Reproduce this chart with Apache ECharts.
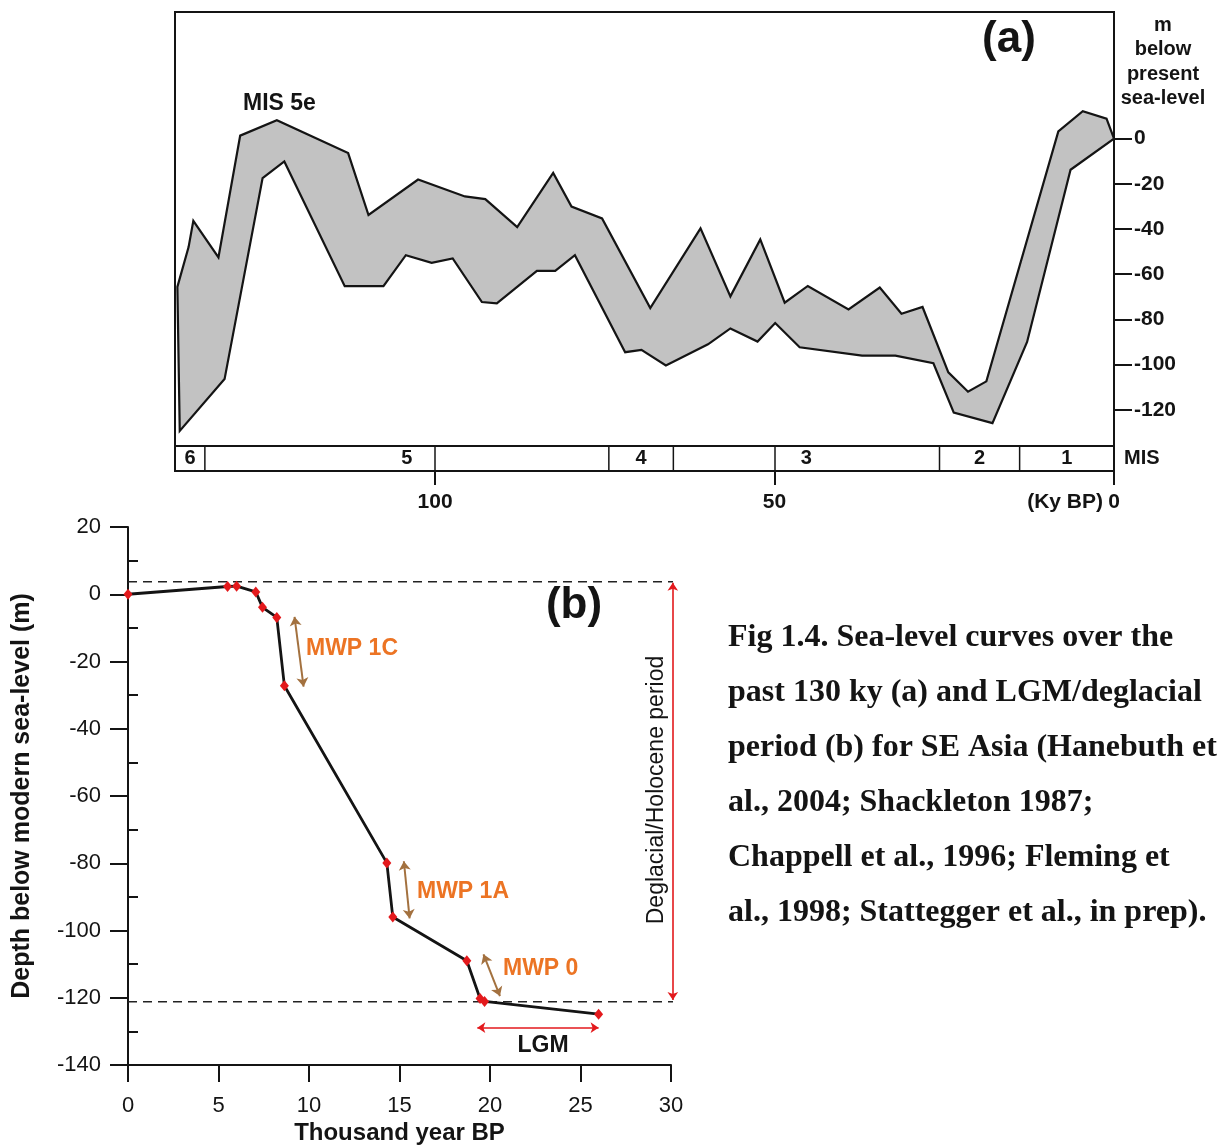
<!DOCTYPE html>
<html>
<head>
<meta charset="utf-8">
<script src="https://cdn.jsdelivr.net/npm/echarts@6/dist/echarts.min.js"></script>
<style>
  html, body { margin: 0; padding: 0; background: #fff; }
  #chart { width: 1229px; height: 1146px; }
</style>
</head>
<body>
<div id="chart"></div>
<script>
// Panel (a): sea-level envelope over the last glacial cycle (age in ky BP, level in m vs present)
const upperAge   = [137.95, 136.3, 135.6, 131.9, 128.7, 123.3, 112.8, 109.8, 102.5, 95.6, 92.6, 87.9, 82.6, 79.9, 75.4, 68.3, 60.9, 56.5, 52.1, 48.5, 45.1, 39.1, 34.5, 31.3, 28.2, 24.4, 21.5, 18.8, 8.2, 4.6, 1.1, 0];
const upperLevel = [-65.6, -48, -36.4, -52.6, 1.3, 8.1, -6.4, -33.8, -18.1, -25.6, -26.8, -39.2, -15.2, -30.1, -35.3, -75, -39.7, -69.8, -44.6, -72.6, -65.2, -75.6, -65.9, -77.5, -74.5, -103.4, -112, -107.4, 3.2, 12.1, 8.8, 0];
const lowerAge   = [137.6, 131, 125.4, 122.2, 113.3, 107.6, 104.3, 100.5, 97.4, 93.1, 90.9, 85, 82.3, 79.4, 72, 69.6, 66, 59.8, 56.5, 52.5, 49.9, 46.3, 37.1, 32.2, 26.6, 23.6, 17.9, 12.8, 6.4, 0];
const lowerLevel = [-129.3, -106.4, -17.5, -10.1, -65.3, -65.3, -51.6, -55, -53, -72.3, -72.9, -58.5, -58.5, -51.6, -94.5, -93.5, -100.4, -91, -84, -89.8, -81.6, -92.3, -96, -96, -99.4, -121.2, -125.9, -90, -13.8, 0];

// Marine isotope stages (older bound, younger bound in ky BP)
const misStage = ['6', '5', '4', '3', '2', '1'];
const misOlder = [138.3, 133.9, 74.4, 64.9, 25.7, 13.9];
const misYounger = [133.9, 74.4, 64.9, 25.7, 13.9, 0];

const ageTicksA = [100, 50, 0];
const levelTicksA = [0, -20, -40, -60, -80, -100, -120];

// Panel (b): LGM / deglacial sea-level curve
const bAge   = [0, 5.5, 6.0, 7.06, 7.43, 8.22, 8.64, 14.3, 14.63, 18.72, 19.45, 19.7, 26.0];
const bDepth = [0, 2.3, 2.4, 0.7, -3.9, -6.9, -27.2, -79.9, -96, -109, -120.2, -121.1, -124.9];

const deglacialTop = 3.7;
const lgmLevel = -121.2;
const mwpNames = ['MWP 1C', 'MWP 1A', 'MWP 0'];
const mwpArrows = [
  [[9.2, -6.7], [9.7, -27.5]],
  [[15.24, -79.4], [15.56, -96.4]],
  [[19.64, -107.1], [20.55, -119.5]]
];
const lgmArrow = [[19.3, -128.9], [26.0, -128.9]];
const deglacialArrow = [[30.1, 3.4], [30.1, -120.7]];
const minorTicksB = [10, -10, -30, -50, -70, -90, -110, -130];

const captionLines = [
  'Fig 1.4. Sea-level curves over the',
  'past 130 ky (a) and LGM/deglacial',
  'period (b) for SE Asia (Hanebuth et',
  'al., 2004; Shackleton 1987;',
  'Chappell et al., 1996; Fleming et',
  'al., 1998; Stattegger et al., in prep).'
];

const sans = "'Liberation Sans', Arial, Helvetica, sans-serif";
const serif = "'Liberation Serif', 'Times New Roman', Times, serif";
const ink = '#141414';
const orange = '#ec7424';
const brown = '#a3713f';
const red = '#e3191c';

const chart = echarts.init(document.getElementById('chart'), null, { renderer: 'canvas', width: 1229, height: 1146 });

function txt(x, y, text, style, extra) {
  return Object.assign({
    type: 'text', x: x, y: y, silent: true,
    style: Object.assign({ text: text, fill: ink, font: 'bold 20px ' + sans }, style)
  }, extra || {});
}

const graphics = [
  txt(243, 104, 'MIS 5e', { font: 'bold 23px ' + sans, verticalAlign: 'middle' }),
  txt(1009, 40, '(a)', { font: 'bold 44px ' + sans, align: 'center', verticalAlign: 'middle' }),
  txt(1163, 13, 'm\nbelow\npresent\nsea-level', { font: 'bold 20px ' + sans, align: 'center', lineHeight: 24.5 }),
  txt(1124, 458, 'MIS', { font: 'bold 20px ' + sans, verticalAlign: 'middle' }),
  txt(1103, 502, '(Ky BP)', { font: 'bold 21px ' + sans, align: 'right', verticalAlign: 'middle' }),
  txt(574, 606, '(b)', { font: 'bold 44px ' + sans, align: 'center', verticalAlign: 'middle' }),
  txt(306, 649, mwpNames[0], { font: 'bold 23px ' + sans, fill: orange, verticalAlign: 'middle' }),
  txt(417, 892, mwpNames[1], { font: 'bold 23px ' + sans, fill: orange, verticalAlign: 'middle' }),
  txt(503, 969, mwpNames[2], { font: 'bold 23px ' + sans, fill: orange, verticalAlign: 'middle' }),
  txt(543, 1046, 'LGM', { font: 'bold 23px ' + sans, align: 'center', verticalAlign: 'middle' }),
  txt(657, 790, 'Deglacial/Holocene period', { font: '23px ' + sans, align: 'center', verticalAlign: 'middle' }, { rotation: Math.PI / 2 })
];
captionLines.forEach(function (line, i) {
  graphics.push(txt(728, 638 + i * 55, line, { font: 'bold 32px ' + serif, verticalAlign: 'middle' }));
});

const option = {
  animation: false,
  backgroundColor: '#ffffff',
  grid: [
    { left: 175, top: 12, width: 939, height: 434, show: true, borderColor: ink, borderWidth: 2, backgroundColor: 'transparent' },
    { left: 175, top: 446, width: 939, height: 25, show: true, borderColor: ink, borderWidth: 2, backgroundColor: 'transparent' },
    { left: 128, top: 527, width: 543, height: 539 }
  ],
  xAxis: [
    { gridIndex: 0, type: 'value', min: 0, max: 138.3, inverse: true,
      axisLine: { show: false }, axisTick: { show: false }, axisLabel: { show: false }, splitLine: { show: false } },
    { gridIndex: 1, type: 'value', min: 0, max: 138.3, inverse: true, interval: 50,
      axisLine: { show: false },
      axisTick: { show: true, length: 14, customValues: ageTicksA, lineStyle: { color: ink, width: 2 } },
      axisLabel: { customValues: ageTicksA, fontFamily: sans, fontWeight: 'bold', fontSize: 21, color: ink, margin: 21 },
      splitLine: { show: true, lineStyle: { color: ink, width: 1.5 } } },
    { gridIndex: 2, type: 'value', min: 0, max: 30, interval: 5,
      axisLine: { show: true, onZero: false, lineStyle: { color: ink, width: 2 } },
      axisTick: { show: true, length: 17, lineStyle: { color: ink, width: 2 } },
      axisLabel: { fontFamily: sans, fontSize: 22, color: ink, margin: 30 },
      splitLine: { show: false },
      name: 'Thousand year BP', nameLocation: 'middle', nameGap: 56,
      nameTextStyle: { fontFamily: sans, fontWeight: 'bold', fontSize: 24, color: ink } }
  ],
  yAxis: [
    { gridIndex: 0, type: 'value', min: -136, max: 56, position: 'right',
      axisLine: { show: false },
      axisTick: { show: true, length: 18, customValues: levelTicksA, lineStyle: { color: ink, width: 2 } },
      axisLabel: { customValues: levelTicksA, fontFamily: sans, fontWeight: 'bold', fontSize: 21, color: ink, margin: 20 },
      splitLine: { show: false } },
    { gridIndex: 1, type: 'value', min: 0, max: 1, show: false },
    { gridIndex: 2, type: 'value', min: -140, max: 20, interval: 20, position: 'left',
      axisLine: { show: true, onZero: false, lineStyle: { color: ink, width: 2 } },
      axisTick: { show: true, length: 18, lineStyle: { color: ink, width: 2 } },
      axisLabel: { fontFamily: sans, fontSize: 22, color: ink, margin: 27 },
      splitLine: { show: false },
      name: 'Depth below modern sea-level (m)', nameLocation: 'middle', nameGap: 93,
      nameTextStyle: { fontFamily: sans, fontWeight: 'bold', fontSize: 25, color: ink } },
    { gridIndex: 2, type: 'value', min: -140, max: 20, position: 'left', offset: 0,
      axisLine: { show: false },
      axisTick: { show: true, inside: true, length: 10, customValues: minorTicksB, lineStyle: { color: ink, width: 2 } },
      axisLabel: { show: false }, splitLine: { show: false } }
  ],
  graphic: graphics,
  series: [
    // (a) envelope polygon: upper bound then lower bound in reverse
    { type: 'custom', xAxisIndex: 0, yAxisIndex: 0, data: [[0, 0]], clip: true, z: 3,
      renderItem: function (params, api) {
        const pts = [];
        for (let i = 0; i < upperAge.length; i++) pts.push(api.coord([upperAge[i], upperLevel[i]]));
        for (let i = lowerAge.length - 1; i >= 0; i--) pts.push(api.coord([lowerAge[i], lowerLevel[i]]));
        return { type: 'polygon', shape: { points: pts },
          style: { fill: '#c2c2c2', stroke: ink, lineWidth: 2.2, lineJoin: 'miter' } };
      } },
    // (a) MIS stage bar
    { type: 'custom', xAxisIndex: 1, yAxisIndex: 1, z: 4,
      data: misStage.map(function (s, i) { return [misOlder[i], misYounger[i], i]; }),
      renderItem: function (params, api) {
        const i = api.value(2);
        const older = api.value(0), younger = api.value(1);
        const top = api.coord([older, 1]);
        const bot = api.coord([older, 0]);
        const mid = api.coord([(older + younger) / 2, 0.5]);
        const children = [{ type: 'text', x: mid[0], y: mid[1],
          style: { text: misStage[i], fill: ink, font: 'bold 20px ' + sans, align: 'center', verticalAlign: 'middle' } }];
        if (i > 0) children.push({ type: 'line', shape: { x1: top[0], y1: top[1], x2: bot[0], y2: bot[1] },
          style: { stroke: ink, lineWidth: 1.5 } });
        return { type: 'group', children: children };
      } },
    // (b) reference levels
    { type: 'line', xAxisIndex: 2, yAxisIndex: 2, clip: false, symbol: 'none', silent: true, z: 2,
      data: [[0, deglacialTop], [30.5, deglacialTop]],
      lineStyle: { color: '#222', width: 1.6, type: [9, 6] } },
    { type: 'line', xAxisIndex: 2, yAxisIndex: 2, clip: false, symbol: 'none', silent: true, z: 2,
      data: [[0, lgmLevel], [30.5, lgmLevel]],
      lineStyle: { color: '#222', width: 1.6, type: [9, 6] } },
    // (b) sea-level curve
    { type: 'line', xAxisIndex: 2, yAxisIndex: 2, z: 5,
      data: bAge.map(function (a, i) { return [a, bDepth[i]]; }),
      symbol: 'diamond', symbolSize: [9, 11], showAllSymbol: true,
      itemStyle: { color: red },
      lineStyle: { color: ink, width: 2.8 } },
    // (b) meltwater pulse arrows
    { type: 'lines', coordinateSystem: 'cartesian2d', xAxisIndex: 2, yAxisIndex: 2, clip: false, z: 6,
      symbol: ['arrow', 'arrow'], symbolSize: 9,
      lineStyle: { color: brown, width: 2, opacity: 1, curveness: 0 },
      data: mwpArrows.map(function (c) { return { coords: c }; }) },
    // (b) LGM and deglacial period spans
    { type: 'lines', coordinateSystem: 'cartesian2d', xAxisIndex: 2, yAxisIndex: 2, clip: false, z: 6,
      symbol: ['arrow', 'arrow'], symbolSize: 8,
      lineStyle: { color: red, width: 1.6, opacity: 1, curveness: 0 },
      data: [{ coords: lgmArrow }, { coords: deglacialArrow }] }
  ]
};

chart.setOption(option);
</script>
</body>
</html>
